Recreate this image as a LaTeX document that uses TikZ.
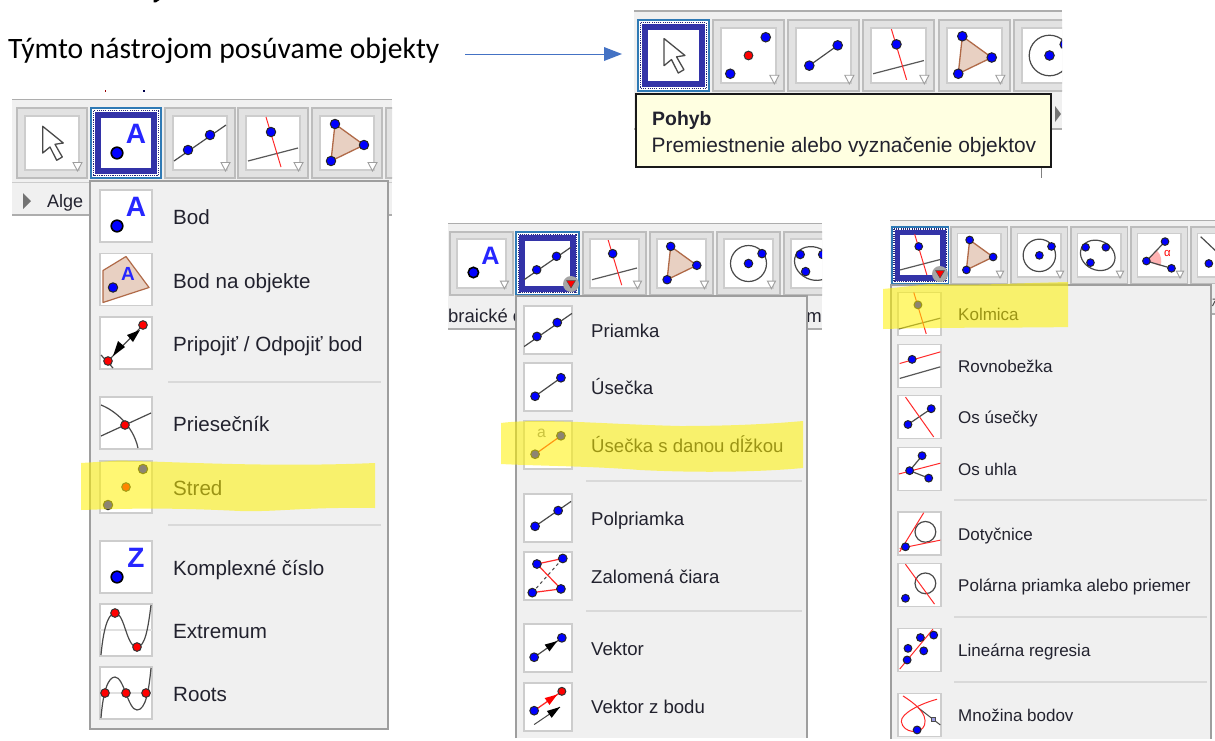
\documentclass[tikz,border=0pt]{standalone}
\usepackage{fontspec}
\setmainfont{Liberation Sans}
\newfontfamily\calib{Carlito}
\definecolor{panelbg}{HTML}{F0F0F0}
\definecolor{btnbg}{HTML}{E2E2E2}
\definecolor{btnln}{HTML}{BDBDBD}
\definecolor{boxln}{HTML}{CDCDCD}
\definecolor{navy}{HTML}{3333A8}
\definecolor{selblue}{HTML}{2F7AB5}
\definecolor{gbr}{HTML}{FF2A2A}
\definecolor{polyfill}{HTML}{E8D0C2}
\definecolor{polyln}{HTML}{B06A48}
\definecolor{txt}{HTML}{22222E}
\definecolor{gline}{HTML}{4A4A4A}
\definecolor{tipbg}{HTML}{FFFFE1}
\definecolor{arrowblue}{HTML}{4472C4}
\tikzset{
  gl/.style={draw=gline,line width=1.2pt},
  rl/.style={draw=gbr,line width=1pt},
  hilite/.style={fill=yellow,fill opacity=.55},
  sepline/.style={draw=black!15,line width=1.2pt},
  panelline/.style={draw=black!32,line width=1.6pt},
  menubox/.style={fill=panelbg,draw=black!38,line width=1.5pt},
  ltxt/.style={anchor=base west,inner sep=0pt,text=txt},
}
% --- point helpers
\newcommand{\dotb}[2]{\fill[blue,draw=black!85,line width=1pt] (#1,#2) circle[radius=4.7];}
\newcommand{\dotr}[2]{\fill[red,draw=black!80,line width=1pt] (#1,#2) circle[radius=4.3];}
% --- icons, frame 52 x 52
\newcommand{\icMove}{\draw[fill=white,draw=gline,line width=1.3pt,line join=round] (16.7,9.3)--(16.7,36)--(24,30)--(30.7,43.3)--(36.3,40)--(29,27.3)--(37.3,26)--cycle;}
\newcommand{\icLetter}[1]{\fill[blue,draw=black,line width=1.6pt] (17,36) circle[radius=5.8];
  \node[transform shape,inner sep=0pt,text=blue!85!white,font=\fontsize{28}{28}\selectfont\bfseries] at (36,17) {#1};}
\newcommand{\icA}{\icLetter{A}}
\newcommand{\icZ}{\icLetter{Z}}
\newcommand{\icLine}{\draw[gl] (0,44)--(52,8); \dotb{14}{33}\dotb{36}{18}}
\newcommand{\icPerp}{\draw[gl,draw=black!65] (1,44)--(51,31); \draw[rl] (19,0)--(34,50); \dotb{24}{15}}
\newcommand{\icTri}{\draw[fill=polyfill,draw=polyln,line width=1.3pt,line join=round] (14,7)--(43,28)--(10,44)--cycle; \dotb{14}{7}\dotb{43}{28}\dotb{10}{44}}
\newcommand{\icMid}{\dotb{8}{44}\dotb{43}{8}\dotr{26}{26}}
\newcommand{\icSeg}{\draw[gl] (12,36)--(40,16); \dotb{12}{36}\dotb{40}{16}}
\newcommand{\icCirc}{\draw[gl] (26,26) circle[radius=20]; \dotb{26}{26}\dotb{41}{15}}
\newcommand{\icConic}{\draw[gl,rotate around={-25:(24,26)}] (24,26) ellipse[x radius=22,y radius=18]; \dotb{9}{16}\dotb{34}{16}\dotb{15}{35}}
\newcommand{\icAngle}{\fill[red!30] (10,33)--(23,20) arc[start angle=-45,end angle=20,radius=18.4]--cycle;
  \draw[gl] (33,9)--(10,33)--(41,42); \dotb{10}{33}\dotb{33}{9}\dotb{41}{42}
  \node[transform shape,inner sep=0pt,text=red,font=\fontsize{14}{14}\selectfont] at (36,24) {α};}
\newcommand{\icLast}{\draw[gl] (3,3)--(40,38); \dotb{13}{36}}
\newcommand{\icOnObj}{\draw[fill=polyfill,draw=polyln,line width=1.2pt,line join=round] (26,3)--(49,34)--(3,49)--(3,17)--cycle; \dotb{13}{34}
  \node[transform shape,inner sep=0pt,text=blue!85!white,font=\fontsize{19}{19}\selectfont\bfseries] at (28,20) {A};}
\newcommand{\icAttach}{\draw[gl] (1,38)--(13,51); \draw[gl] (8,44)--(43,8);
  \fill[black] (13,39)--(25,30)--(18,24)--cycle; \fill[black] (40,13)--(33,25)--(27,18)--cycle; \dotr{8}{44}\dotr{43}{8}}
\newcommand{\icInter}{\draw[gl] (1,8) .. controls (14,13) and (33,28) .. (38,51); \draw[gl] (1,39)--(51,16); \dotr{25}{28}}
\newcommand{\icExt}{\draw[black!12,line width=1.4pt] (0,26)--(52,26);
  \draw[gl] (1,51) .. controls (4,18) and (10,9) .. (15,9) .. controls (25,9) and (26,43) .. (37,43) .. controls (45,43) and (48,25) .. (51,1); \dotr{15}{9}\dotr{37}{43}}
\newcommand{\icRoots}{\draw[black!12,line width=1.4pt] (0,26)--(52,26);
  \draw[gl] (1,51) .. controls (3,25) and (8,10) .. (15,10) .. controls (24,10) and (28,43) .. (37,43) .. controls (46,43) and (49,22) .. (51,1); \dotr{5}{26}\dotr{26}{26}\dotr{46}{26}}
\newcommand{\icRay}{\draw[gl] (12,35)--(51,8); \dotb{12}{35}\dotb{37}{18}}
\newcommand{\icSegA}{\node[transform shape,inner sep=0pt,text=black!45,font=\fontsize{17}{17}\selectfont] at (19,13) {a};
  \draw[rl,line width=1.2pt] (12,36)--(40,16); \dotb{12}{36}\dotb{40}{16}}
\newcommand{\icPoly}{\draw[gline,dashed,line width=1pt] (9,44)--(42,7); \draw[rl,line width=1.2pt] (42,7)--(14,13)--(40,40)--(9,44); \dotb{14}{13}\dotb{42}{7}\dotb{9}{44}\dotb{40}{40}}
\newcommand{\icVec}{\draw[gl] (11,36)--(41,15); \fill[black] (36,18.5)--(27.6,29.7)--(22.4,22.3)--cycle; \dotb{11}{36}\dotb{41}{15}}
\newcommand{\icVecP}{\draw[rl,line width=1.3pt] (11,30)--(41,9); \fill[red] (36,12.5)--(27.6,23.7)--(22.4,16.3)--cycle; \dotb{11}{30}\dotr{41}{9}
  \draw[gl,line width=1pt] (11,45)--(39,26); \fill[black] (39,26)--(30,37.7)--(24.8,30.3)--cycle;}
\newcommand{\icPar}{\draw[gl,draw=black!65] (2,41)--(51,27); \draw[rl] (2,23)--(51,9); \dotb{17}{18}}
\newcommand{\icBis}{\draw[gl] (12,35)--(40,16); \draw[rl] (9,2)--(43,50); \dotb{12}{35}\dotb{40}{16}}
\newcommand{\icAng}{\draw[gl] (29,10)--(14,28)--(37,37); \draw[rl] (1,32)--(51,19); \dotb{14}{28}\dotb{29}{10}\dotb{37}{37}}
\newcommand{\icTan}{\draw[gl] (33,24) circle[radius=12.5]; \draw[rl] (2,48)--(31,1); \draw[rl] (2,44)--(51,34); \dotb{9}{42}}
\newcommand{\icPol}{\draw[gl] (33,24) circle[radius=12.5]; \draw[rl] (9,1)--(44,49); \dotb{9}{42}}
\newcommand{\icReg}{\draw[rl] (2,49)--(42,1); \dotb{27}{11}\dotb{43}{8}\dotb{12}{24}\dotb{31}{27}\dotb{11}{38}}
\newcommand{\icLocus}{\draw[gl,line width=1pt] (24,17)--(51,38);
  \draw[rl] (6,3) .. controls (20,12) and (36,24) .. (32,38) .. controls (28,50) and (6,48) .. (4,34) .. controls (3,24) and (28,12) .. (47,7);
  \dotb{23}{44}\fill[black!30!blue!40!white,draw=black!70,line width=.7pt] (40.5,28.5) rectangle (45.5,33.5);}
% --- toolbar buttons
\newcommand{\tbtn}[4]{\begin{scope}[shift={(#1,#2)},scale=#3]
  \fill[btnbg,draw=btnln,line width=1.4pt] (0,0) rectangle (70,70);
  \fill[white,draw=boxln,line width=1.8pt] (8,8) rectangle (62,62);
  \begin{scope}\clip (8,8) rectangle (62,62);\begin{scope}[shift={(9,9)}]#4\end{scope}\end{scope}
  \fill[white,draw=black!38,line width=.9pt] (56,54.5)--(65,54.5)--(60.5,63)--cycle;
\end{scope}}
\newcommand{\tsel}[4]{\begin{scope}[shift={(#1,#2)},scale=#3]
  \fill[white,draw=selblue,line width=1.2pt] (0,0) rectangle (70,70);
  \draw[navy!70!black,line width=1.6pt,dash pattern=on 1.1pt off 1.1pt] (2.6,2.6) rectangle (67.4,67.4);
  \draw[navy,line width=5.6pt] (6.8,6.8) rectangle (63.2,63.2);
  \begin{scope}\clip (4,4) rectangle (66,66);\begin{scope}[shift={(9,9)}]#4\end{scope}\end{scope}
\end{scope}}
\newcommand{\redmark}[2]{\fill[black!35] (#1,#2) circle[radius=8];\fill[red,draw=black!70,line width=.5pt] (#1-4.5,#2-3.5)--(#1+4.5,#2-3.5)--(#1,#2+4)--cycle;}
\newcommand{\micon}[4]{\begin{scope}[shift={(#1,#2)},scale=#3]
  \begin{scope}[shift={(0,-26)}]
  \fill[white,draw=boxln,line width=1.6pt] (0,0) rectangle (52,52);
  \begin{scope}\clip (0,0) rectangle (52,52);#4\end{scope}
  \end{scope}
\end{scope}}
\newcommand{\mtext}[5]{\node[ltxt,font=\fontsize{#4}{#4}\selectfont] (#1) at (#2,#3) {#5};}
\begin{document}
\begin{tikzpicture}[x=1pt,y=-1pt]
\useasboundingbox[fill=white] (0,0) rectangle (1215,740);
% remnants at top
\fill[black] (153.5,0)--(159.5,0)--(156,2.4)--(153.5,2.4)--cycle;
\fill[red!60!black] (104.5,90)--(105.6,90)--(105.6,91.5)--(104.5,91.5)--cycle;
\fill[black!70!blue] (142.5,90)--(144.5,90)--(144.5,91.5)--(142.5,91.5)--cycle;
% heading
\node[anchor=base west,inner sep=0pt,font=\calib\fontsize{29.6}{29.6}\selectfont,text=black] (head) at (8,58.5) {Týmto nástrojom posúvame objekty};
% ===== TOP PANEL =====
\begin{scope}
\clip (634,9) rectangle (1062,180);
\fill[panelbg] (634,10) rectangle (1062,129);
\draw[panelline] (634,11)--(1062,11);
\draw[panelline] (634,129)--(1062,129);
\tsel{638}{20}{1.014}{\icMove}
\tbtn{713}{20}{1.014}{\icMid}
\tbtn{788}{20}{1.014}{\icSeg}
\tbtn{863}{20}{1.014}{\icPerp}
\tbtn{939}{20}{1.014}{\icTri}
\tbtn{1014}{20}{1.014}{\icCirc}
\fill[black!55] (1055,106)--(1061,114)--(1055,122)--cycle;
\end{scope}
\draw[black!50,line width=1.4pt] (1041.5,167)--(1041.5,178);
\fill[tipbg,draw=black!90,line width=1.5pt] (636,94) rectangle (1051,167);
\mtext{tipa}{652}{125}{19.4}{\textbf{Pohyb}}
\mtext{tipb}{651.5}{152}{20.9}{Premiestnenie alebo vyznačenie objektov}
% arrow
\coordinate (arrA) at (465,54);
\coordinate (arrB) at (622,54);
\draw[arrowblue,line width=1pt] (arrA)--(604,54);
\fill[arrowblue] (arrB)--(604,47)--(604,61)--cycle;
% ===== LEFT PANEL =====
\begin{scope}
\clip (12,97) rectangle (392,217);
\fill[panelbg] (12,99) rectangle (392,215);
\draw[panelline] (12,99.5)--(392,99.5);
\draw[black!20,line width=1pt] (12,182.5)--(392,182.5);
\draw[panelline] (12,215)--(392,215);
\tbtn{17}{108}{1}{\icMove}
\tsel{91}{108}{1}{\icA}
\tbtn{165}{108}{1}{\icLine}
\tbtn{238}{108}{1}{\icPerp}
\tbtn{312}{108}{1}{\icTri}
\tbtn{386}{108}{1}{}
\fill[black!55] (23,193)--(31,201)--(23,209)--cycle;
\mtext{algl}{47}{207}{18}{Alge}
\end{scope}
\draw[menubox] (90,181) rectangle (388,729);
\micon{100}{216}{1}{\icA}
\micon{100}{279.5}{1}{\icOnObj}
\micon{100}{343}{1}{\icAttach}
\micon{100}{423}{1}{\icInter}
\micon{100}{487}{1}{\icMid}
\micon{100}{567}{1}{\icZ}
\micon{100}{630}{1}{\icExt}
\micon{100}{693}{1}{\icRoots}
\draw[sepline] (168,382)--(381,382);
\draw[sepline] (168,525)--(381,525);
\mtext{l1}{173}{224}{20.6}{Bod}
\mtext{l2}{173}{288}{20.6}{Bod na objekte}
\mtext{l3}{173}{351}{20.6}{Pripojiť / Odpojiť bod}
\mtext{l4}{173}{431}{20.6}{Priesečník}
\mtext{l5}{173}{495}{20.6}{Stred}
\mtext{l6}{173}{575}{20.6}{Komplexné číslo}
\mtext{l7}{173}{638}{20.6}{Extremum}
\mtext{l8}{173}{701}{20.6}{Roots}
\fill[hilite] (81,463) -- (120,460.5) .. controls (200,463) and (280,467) .. (375,463) -- (375,508) .. controls (300,507) and (280,512) .. (240,511) .. controls (180,508) and (140,508) .. (81,510) -- cycle;
% ===== MIDDLE PANEL =====
\begin{scope}
\clip (448,222) rectangle (822,331);
\fill[panelbg] (448,223) rectangle (822,329);
\draw[panelline] (448,223.5)--(822,223.5);
\draw[panelline] (448,329)--(822,329);
\tbtn{450}{232}{.9}{\icA}
\tsel{516}{232}{.9}{\icLine}
\tbtn{583}{232}{.9}{\icPerp}
\tbtn{650}{232}{.9}{\icTri}
\tbtn{717}{232}{.9}{\icCirc}
\tbtn{784}{232}{.9}{\icConic}
\redmark{571}{284}
\mtext{mla}{448}{322}{18.5}{braické o}
\mtext{mlb}{796}{322}{18.5}{om}
\end{scope}
\fill[panelbg] (516,296) -- (807,296) -- (807,738) -- (516,738) -- cycle;
\draw[black!38,line width=1.5pt] (516,738)--(516,296)--(807,296)--(807,738);
\micon{524}{330}{.923}{\icLine}
\micon{524}{387}{.923}{\icSeg}
\micon{524}{445}{.923}{\icSegA}
\micon{524}{518}{.923}{\icRay}
\micon{524}{576}{.923}{\icPoly}
\micon{524}{648}{.923}{\icVec}
\micon{524}{707}{.923}{\icVecP}
\draw[sepline] (586,481)--(802,481);
\draw[sepline] (586,611)--(802,611);
\mtext{m1}{591}{337}{18.6}{Priamka}
\mtext{m2}{591}{394}{18.6}{Úsečka}
\mtext{m3}{591}{452}{18.6}{Úsečka s danou dĺžkou}
\mtext{m4}{591}{525}{18.6}{Polpriamka}
\mtext{m5}{591}{583}{18.6}{Zalomená čiara}
\mtext{m6}{591}{655}{18.6}{Vektor}
\mtext{m7}{591}{713}{18.6}{Vektor z bodu}
\fill[hilite] (501,423) .. controls (540,418) and (600,424) .. (680,426) .. controls (730,426) and (770,424) .. (803,421) -- (803,468) .. controls (760,472) and (700,473) .. (640,470) .. controls (590,466) and (540,466) .. (501,464) -- cycle;
% ===== RIGHT PANEL =====
\begin{scope}
\clip (890,219) rectangle (1215,320);
\fill[panelbg] (890,220) rectangle (1215,314);
\draw[panelline] (890,220.5)--(1215,220.5);
\draw[panelline] (890,314)--(1215,314);
\tsel{892}{227}{.81}{\icPerp}
\tbtn{951}{227}{.81}{\icTri}
\tbtn{1011}{227}{.81}{\icCirc}
\tbtn{1071}{227}{.81}{\icConic}
\tbtn{1131}{227}{.81}{\icAngle}
\tbtn{1191}{227}{.81}{\icLast}
\redmark{940}{274}
\draw[black!70,line width=1pt] (1212.5,299)--(1215,299) (1212.5,306)--(1215,301);
\end{scope}
\fill[panelbg] (891,285) rectangle (1211,739);
\draw[black!38,line width=1.5pt] (891,739)--(891,285)--(1211,285)--(1211,739);
\micon{898}{314}{.83}{\icPerp}
\micon{898}{366}{.83}{\icPar}
\micon{898}{417}{.83}{\icBis}
\micon{898}{469}{.83}{\icAng}
\micon{898}{533.5}{.83}{\icTan}
\micon{898}{585}{.83}{\icPol}
\micon{898}{650}{.83}{\icReg}
\micon{898}{715}{.83}{\icLocus}
\draw[sepline] (954,500)--(1207,500);
\draw[sepline] (954,617)--(1207,617);
\draw[sepline] (954,682)--(1207,682);
\mtext{r1}{958}{320}{17}{Kolmica}
\mtext{r2}{958}{372}{17}{Rovnobežka}
\mtext{r3}{958}{423}{17}{Os úsečky}
\mtext{r4}{958}{475}{17}{Os uhla}
\mtext{r5}{958}{540}{17}{Dotyčnice}
\mtext{r6}{958}{591}{17}{Polárna priamka alebo priemer}
\mtext{r7}{958}{656}{17}{Lineárna regresia}
\mtext{r8}{958}{721}{17}{Množina bodov}
\fill[hilite] (883,289) -- (930,284) .. controls (970,286) and (1020,283) .. (1068,282) -- (1068,327) .. controls (1020,328) and (960,327) .. (883,329) -- cycle;
\end{tikzpicture}
\end{document}
